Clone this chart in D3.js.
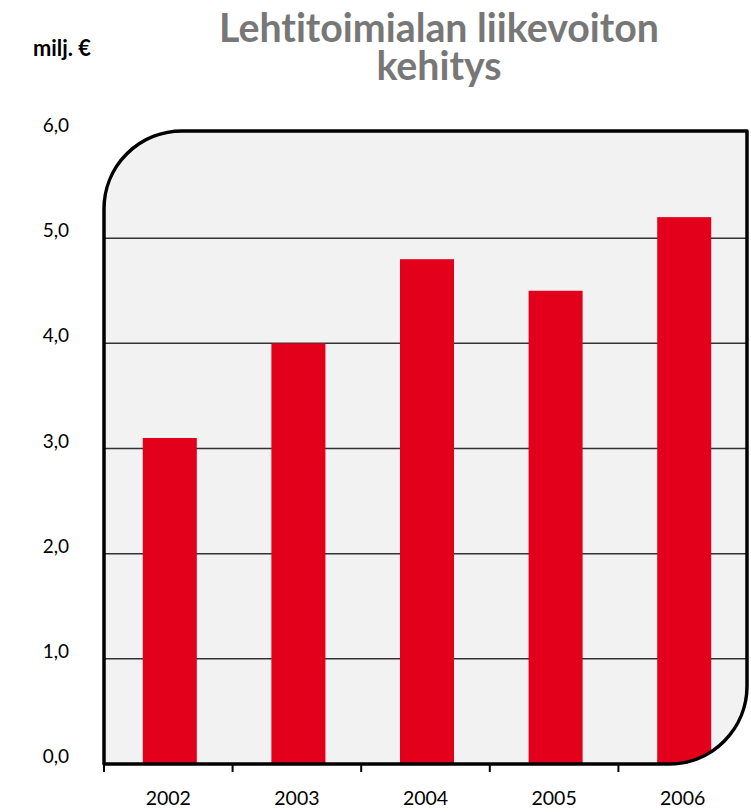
<!DOCTYPE html>
<html>
<head>
<meta charset="utf-8">
<script src="https://cdn.jsdelivr.net/npm/d3@7"></script>
<style>
  html, body { margin: 0; padding: 0; background: #ffffff; }
  svg { display: block; }
  text { font-variant-ligatures: none; font-feature-settings: "liga" 0; }
</style>
</head>
<body>
<svg id="chart" width="751" height="812"></svg>
<script>
const years = ["2002", "2003", "2004", "2005", "2006"];
const values = [3.1, 4.0, 4.8, 4.5, 5.2];
const yTicks = [0, 1, 2, 3, 4, 5, 6];
const yTickLabels = ["0,0", "1,0", "2,0", "3,0", "4,0", "5,0", "6,0"];
const titleLines = ["Lehtitoimialan liikevoiton", "kehitys"];
const unitLabel = "milj. €";

(function () {
const svg = d3.select("#chart");
const font = "Lato, 'Open Sans', sans-serif";

const pL = 104, pR = 747, pT = 131, pB = 764, r = 78;

const x = d3.scaleBand().domain(years).range([pL, pR]).paddingInner(0.58).paddingOuter(0.29);
const y = d3.scaleLinear().domain([0, 6]).range([pB, 133]);
const step = x.step();

const framePath = `M${pL},${pB} L${pL},${pT + r} A${r},${r} 0 0 1 ${pL + r},${pT} L${pR},${pT} L${pR},${pB - r} A${r},${r} 0 0 1 ${pR - r},${pB} Z`;

svg.append("defs").append("clipPath").attr("id", "frameClip")
  .append("path").attr("d", framePath);

svg.append("path").attr("d", framePath).attr("fill", "#f2f2f2");

const g = svg.append("g").attr("clip-path", "url(#frameClip)");

g.selectAll("line.grid").data(yTicks.filter(d => d > 0 && d < 6)).enter()
  .append("line").attr("class", "grid")
  .attr("x1", pL).attr("x2", pR)
  .attr("y1", d => y(d)).attr("y2", d => y(d))
  .attr("stroke", "#333").attr("stroke-width", 1.5);

g.selectAll("rect.bar").data(values).enter()
  .append("rect").attr("class", "bar")
  .attr("x", (d, i) => x(years[i]) + 1.5)
  .attr("width", x.bandwidth())
  .attr("y", d => y(d))
  .attr("height", d => y(0) - y(d))
  .attr("fill", "#e2001a");

svg.append("path").attr("d", framePath)
  .attr("fill", "none").attr("stroke", "#000").attr("stroke-width", 3.5)
  .attr("stroke-linejoin", "round");

svg.selectAll("line.xtick").data(years).enter()
  .append("line").attr("class", "xtick")
  .attr("x1", d => x(d) + x.bandwidth() / 2 - step / 2)
  .attr("x2", d => x(d) + x.bandwidth() / 2 - step / 2)
  .attr("y1", pB).attr("y2", pB + 8)
  .attr("stroke", "#000").attr("stroke-width", 2);

svg.selectAll("text.xlab").data(years).enter()
  .append("text").attr("class", "xlab")
  .attr("x", d => x(d) + x.bandwidth() / 2)
  .attr("y", 805)
  .attr("text-anchor", "middle")
  .attr("font-family", font).attr("font-size", 19.5).attr("fill", "#000")
  .text(d => d);

svg.selectAll("text.ylab").data(yTicks).enter()
  .append("text").attr("class", "ylab")
  .attr("x", 69)
  .attr("y", d => y(d) - 1)
  .attr("text-anchor", "end")
  .attr("font-family", font).attr("font-size", 19).attr("fill", "#000")
  .text((d, i) => yTickLabels[i]);

function fitWidth(sel, target) {
  const node = sel.node();
  const fs = +sel.attr("font-size");
  const w = node.getComputedTextLength();
  if (w > 0) sel.attr("font-size", fs * target / w);
}

// measure title font size
const probe = svg.append("text")
  .attr("font-family", font).attr("font-weight", "bold")
  .attr("font-size", 34).text(titleLines[0]);
fitWidth(probe, 440);
const tfs = +probe.attr("font-size");
probe.remove();

const title = svg.append("text")
  .attr("text-anchor", "middle")
  .attr("font-family", font).attr("font-weight", "bold")
  .attr("font-size", tfs).attr("fill", "#777");
title.selectAll("tspan").data(titleLines).enter()
  .append("tspan")
  .attr("x", 439)
  .attr("y", (d, i) => 42 + i * 38)
  .text(d => d);

const u = svg.append("text")
  .attr("x", 33).attr("y", 56)
  .attr("font-family", font).attr("font-weight", "bold")
  .attr("font-size", 17).attr("fill", "#000")
  .text(unitLabel);
fitWidth(u, 58);
})();
</script>
</body>
</html>
